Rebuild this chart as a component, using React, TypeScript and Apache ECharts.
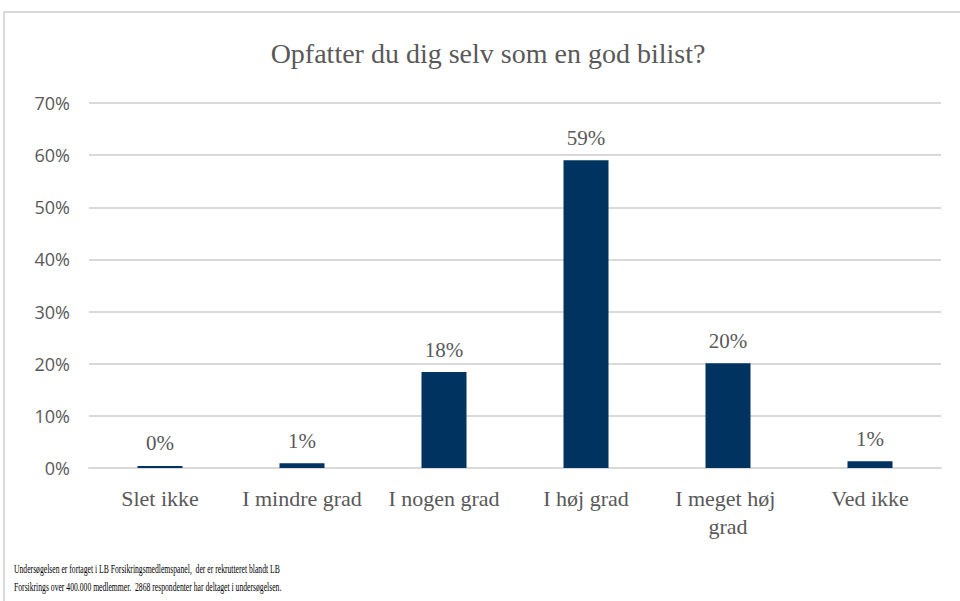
import React, { useEffect, useRef } from "react";
import * as echarts from "echarts";

const titleText = "Opfatter du dig selv som en god bilist?";
const categories = ["Slet ikke", "I mindre grad", "I nogen grad", "I høj grad", "I meget høj grad", "Ved ikke"];
const values = [0.4, 0.9, 18.4, 59.0, 20.1, 1.3];
const valueLabels = ["0%", "1%", "18%", "59%", "20%", "1%"];
const yTicks = [0, 10, 20, 30, 40, 50, 60, 70];
const footnoteLines = [
  "Undersøgelsen er fortaget i LB Forsikringsmedlemspanel,  der er rekrutteret blandt LB",
  "Forsikrings over 400.000 medlemmer.  2868 respondenter har deltaget i undersøgelsen.",
];

const TEXT = "#595959";
const GRID = "#d9d9d9";
const BAR = "#003360";

export default function App() {
  const ref = useRef<HTMLDivElement>(null);
  useEffect(() => {
    if (!ref.current) return;
    const chart = echarts.init(ref.current, undefined, { renderer: "svg" });
    chart.setOption({
      animation: false,
      backgroundColor: "#ffffff",
      grid: { left: 89, right: 19, top: 103, bottom: 133, containLabel: false },
      xAxis: {
        type: "category",
        data: categories,
        axisTick: { show: false },
        axisLine: { show: true, lineStyle: { color: GRID, width: 2 } },
        axisLabel: {
          color: TEXT,
          fontFamily: "Liberation Serif",
          fontSize: 22,
          margin: 16,
          lineHeight: 28,
          width: 140,
          overflow: "break",
          interval: 0,
        },
      },
      yAxis: {
        type: "value",
        min: yTicks[0],
        max: yTicks[yTicks.length - 1],
        interval: 10,
        axisLine: { show: false },
        axisTick: { show: false },
        splitLine: { lineStyle: { color: GRID, width: 2 } },
        axisLabel: {
          color: TEXT,
          fontFamily: "Open Sans",
          fontSize: 18,
          margin: 19,
          formatter: (v: number) => `${v}%`,
        },
      },
      series: [
        {
          type: "bar",
          data: values,
          barWidth: 45,
          itemStyle: { color: BAR },
          label: {
            show: true,
            position: "top",
            distance: 12,
            color: TEXT,
            fontFamily: "Liberation Serif",
            fontSize: 21,
            formatter: (p: any) => valueLabels[p.dataIndex],
          },
        },
      ],
      graphic: [
        {
          type: "rect",
          shape: { x: 4, y: 12, width: 1100, height: 800 },
          style: { fill: "none", stroke: GRID, lineWidth: 2 },
          silent: true,
        },
        {
          type: "text",
          x: 488,
          y: 53,
          style: {
            text: titleText,
            fill: TEXT,
            font: "28px 'Liberation Serif'",
            textAlign: "center",
            textVerticalAlign: "middle",
          },
        },
        ...footnoteLines.map((t, i) => ({
          type: "text",
          x: 14,
          y: 568 + i * 18,
          scaleX: 0.59,
          style: {
            text: t,
            fill: "#000000",
            font: "13px 'Liberation Serif'",
            textAlign: "left",
            textVerticalAlign: "middle",
          },
        })),
      ],
    });
    return () => chart.dispose();
  }, []);
  return <div ref={ref} style={{ position: "fixed", left: 0, top: 0, width: 960, height: 601 }} />;
}
